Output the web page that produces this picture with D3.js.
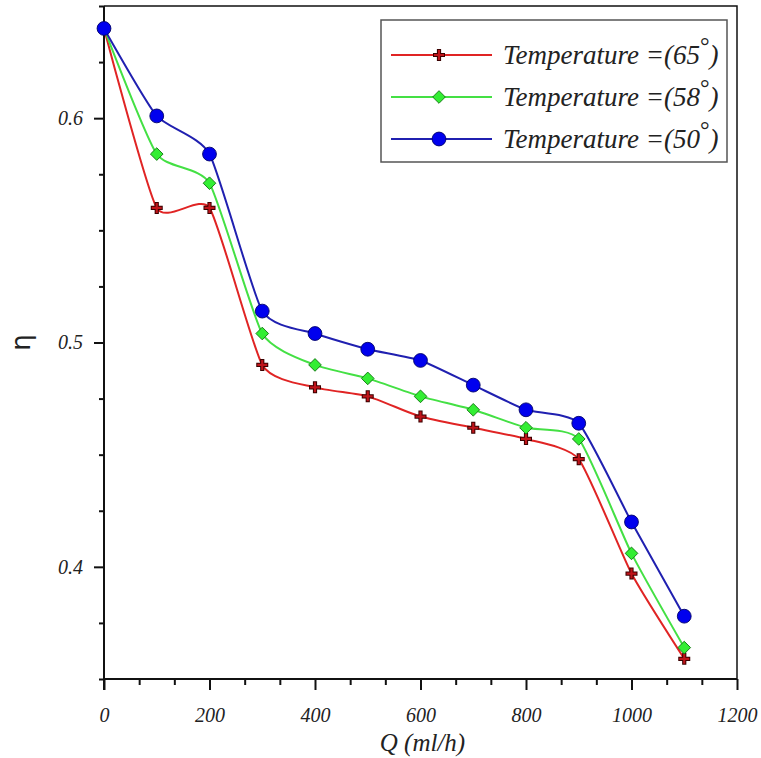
<!DOCTYPE html>
<html>
<head>
<meta charset="utf-8">
<script src="https://cdn.jsdelivr.net/npm/d3@7"></script>
<style>
  body { margin: 0; background: #fff; }
  svg { display: block; }
  .tick text { font-family: "Liberation Serif", "DejaVu Serif", serif; font-style: italic; fill: #222; }
</style>
</head>
<body>
<svg id="chart"></svg>
<script>
// flow rate Q (ml/h)
const flowRates = [0, 100, 200, 300, 400, 500, 600, 700, 800, 900, 1000, 1100];
// efficiency η per temperature
const eta65 = [0.640, 0.560, 0.560, 0.490, 0.480, 0.476, 0.467, 0.462, 0.457, 0.448, 0.397, 0.359];
const eta58 = [0.640, 0.584, 0.571, 0.504, 0.490, 0.484, 0.476, 0.470, 0.462, 0.457, 0.406, 0.364];
const eta50 = [0.640, 0.601, 0.584, 0.514, 0.504, 0.497, 0.492, 0.481, 0.470, 0.464, 0.420, 0.378];
const seriesNames = ["65", "58", "50"];
const xMajorTicks = [0, 200, 400, 600, 800, 1000, 1200];
const yMajorTicks = [0.4, 0.5, 0.6];

const width = 761, height = 758;
const margin = {top: 6, right: 24, bottom: 79, left: 104};
const innerW = width - margin.left - margin.right;
const innerH = height - margin.top - margin.bottom;

const svg = d3.select("#chart").attr("width", width).attr("height", height);
const chart = svg.append("g").attr("transform", `translate(${margin.left},${margin.top})`);

const x = d3.scaleLinear().domain([0, 1200]).range([0, innerW]);
const y = d3.scaleLinear().domain([0.35, 0.65]).range([innerH, 0]);

// frame (top + right)
chart.append("path")
  .attr("d", `M0,0H${innerW}V${innerH}`)
  .attr("fill", "none").attr("stroke", "#111").attr("stroke-width", 1.5);

// minor ticks
const xMinor = d3.range(0, 1201, 200 / 3).filter(v => !xMajorTicks.some(m => Math.abs(m - v) < 1));
const yMinor = d3.range(0.35, 0.651, 0.025).filter(v => !yMajorTicks.some(m => Math.abs(m - v) < 1e-6));

chart.append("g").attr("class", "x-minor").attr("transform", `translate(0,${innerH})`)
  .call(d3.axisBottom(x).tickValues(xMinor).tickSize(6).tickFormat(""));
chart.append("g").attr("class", "y-minor")
  .call(d3.axisLeft(y).tickValues(yMinor).tickSize(5).tickFormat(""));

const xAxis = chart.append("g").attr("class", "x-axis").attr("transform", `translate(0,${innerH})`)
  .call(d3.axisBottom(x).tickValues(xMajorTicks).tickSize(11).tickPadding(18).tickFormat(d3.format("d")));
const yAxis = chart.append("g").attr("class", "y-axis")
  .call(d3.axisLeft(y).tickValues(yMajorTicks).tickSize(10).tickPadding(11).tickFormat(d3.format(".1f")));

chart.selectAll(".x-axis .tick text, .y-axis .tick text").attr("font-size", 20);
chart.selectAll(".domain").attr("stroke", "#111").attr("stroke-width", 2);
chart.selectAll(".tick line").attr("stroke", "#111").attr("stroke-width", 2);
chart.selectAll(".x-minor .domain, .y-minor .domain").remove();
xAxis.select(".domain").attr("d", `M0,0H${innerW}`);
yAxis.select(".domain").attr("d", `M0,${innerH + 11}V0`);

// axis titles
svg.append("text")
  .attr("x", margin.left + x(600) + 2).attr("y", 751)
  .attr("text-anchor", "middle")
  .attr("font-family", "Liberation Serif, serif").attr("font-style", "italic")
  .attr("font-size", 25).attr("fill", "#222")
  .text("Q (ml/h)");
svg.append("text")
  .attr("transform", `translate(30,${margin.top + y(0.5)}) rotate(-90)`)
  .attr("text-anchor", "middle")
  .attr("font-family", "DejaVu Sans, sans-serif")
  .attr("font-size", 26).attr("fill", "#222")
  .text("η");

// series
const series = [
  {name: seriesNames[0], values: eta65, line: "#e02424", fill: "#c0141a", stroke: "#3a0000", symbol: "cross"},
  {name: seriesNames[1], values: eta58, line: "#44e044", fill: "#33ee33", stroke: "#157a15", symbol: "diamond"},
  {name: seriesNames[2], values: eta50, line: "#2020b0", fill: "#0000ee", stroke: "#00006a", symbol: "circle"}
];

const line = d3.line()
  .x((d, i) => x(flowRates[i]))
  .y(d => y(d))
  .curve(d3.curveCardinal.tension(0.45));

// draws one marker into group g
function drawMarker(g, s) {
  if (s.symbol === "cross") {
    g.append("path").attr("d", "M-6,0H6M0,-6V6").attr("stroke", s.stroke).attr("stroke-width", 4.2);
    g.append("path").attr("d", "M-5,0H5M0,-5V5").attr("stroke", s.fill).attr("stroke-width", 2.2);
  } else if (s.symbol === "diamond") {
    g.append("path").attr("d", d3.symbol(d3.symbolSquare, 80)())
      .attr("transform", "rotate(45)")
      .attr("fill", s.fill).attr("stroke", s.stroke).attr("stroke-width", 0.9);
  } else {
    g.append("path").attr("d", d3.symbol(d3.symbolCircle, 150)())
      .attr("fill", s.fill).attr("stroke", s.stroke).attr("stroke-width", 0.9);
  }
}

series.forEach(s => {
  const g = chart.append("g").attr("class", "series");
  g.append("path").datum(s.values)
    .attr("d", line).attr("fill", "none")
    .attr("stroke", s.line).attr("stroke-width", 2);
  g.selectAll("g.marker").data(s.values).join("g")
    .attr("class", "marker")
    .attr("transform", (d, i) => `translate(${x(flowRates[i])},${y(d)})`)
    .each(function () { drawMarker(d3.select(this), s); });
});

// legend
const legend = svg.append("g").attr("transform", "translate(381,20)");
legend.append("rect").attr("width", 346).attr("height", 142)
  .attr("fill", "#fff").attr("stroke", "#555").attr("stroke-width", 1.5);
series.forEach((s, i) => {
  const row = legend.append("g").attr("transform", `translate(0,${35 + i * 42})`);
  row.append("line").attr("x1", 10).attr("x2", 111)
    .attr("stroke", s.line).attr("stroke-width", 2);
  drawMarker(row.append("g").attr("transform", "translate(58,0)"), s);
  const t = row.append("text").attr("x", 122).attr("y", 9)
    .attr("font-family", "Liberation Serif, serif").attr("font-style", "italic")
    .attr("font-size", 27).attr("fill", "#222");
  t.append("tspan").text(`Temperature =(${s.name}`);
  t.append("tspan").attr("dy", -10).attr("font-size", 24).attr("font-style", "normal").text("°");
  t.append("tspan").attr("dy", 10).text(")");
});
</script>
</body>
</html>
